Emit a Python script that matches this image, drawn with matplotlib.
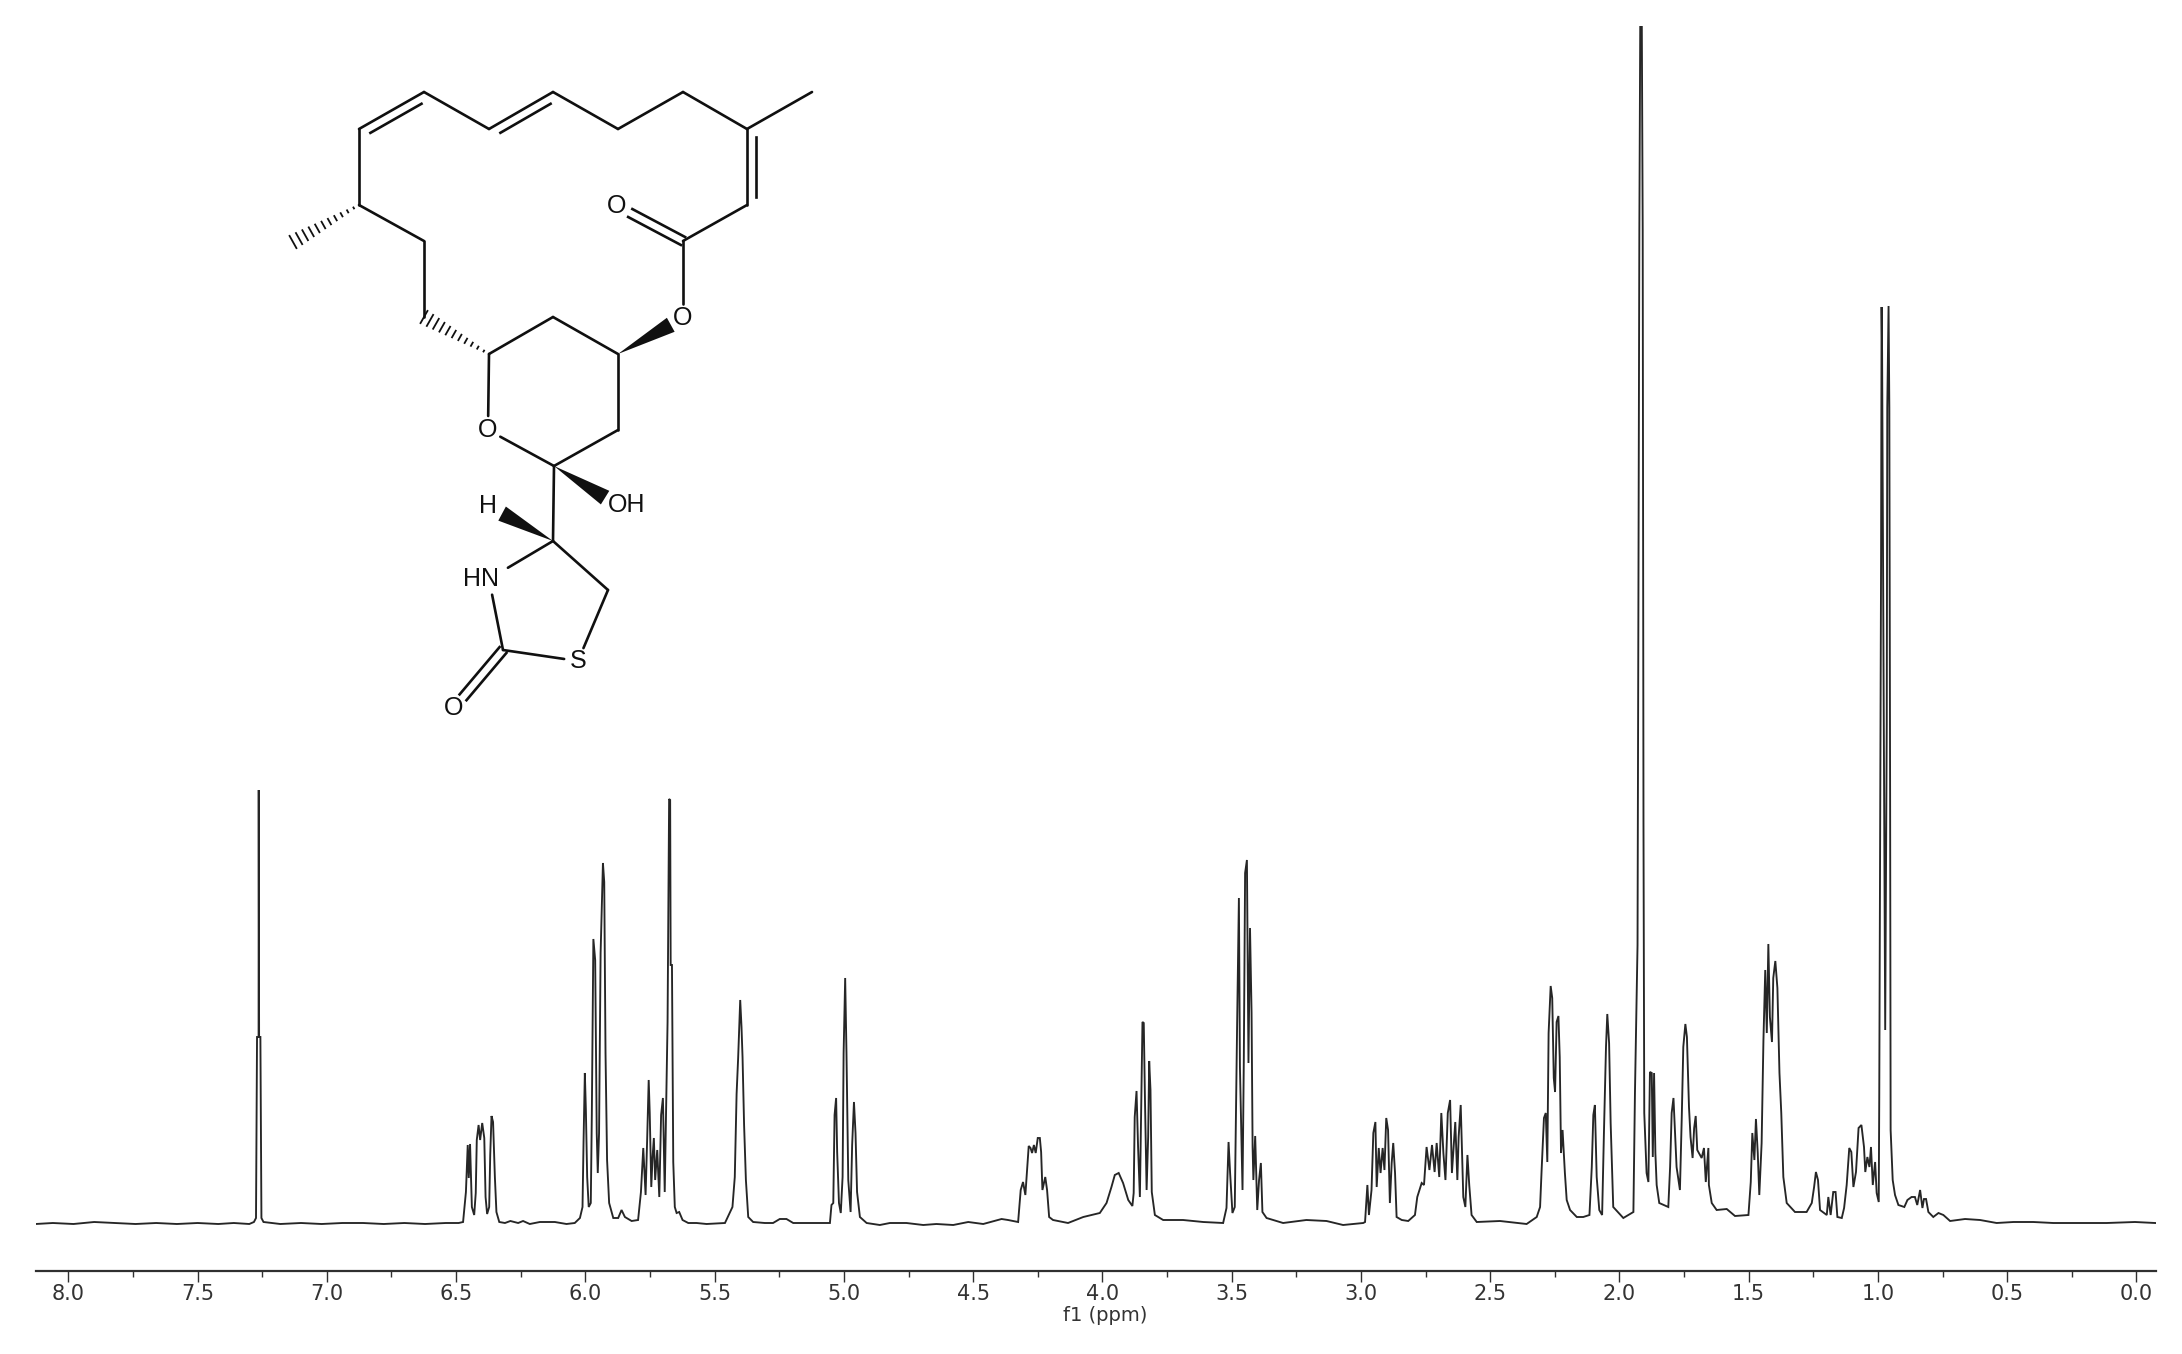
"""1H NMR spectrum with the structure drawn in the upper left corner."""
import numpy as np
import matplotlib
matplotlib.use("Agg")
import matplotlib.pyplot as plt

# ─── Spectrum: (ppm, height above baseline) ──────────────────────────────────
base_left = [(8.126, 0), (8.06, 1), (7.98, 0), (7.90, 2), (7.82, 1), (7.74, 0), (7.66, 1),
             (7.58, 0), (7.50, 1), (7.42, 0), (7.36, 1), (7.30, 0), (7.282, 2)]
chcl3 = [(7.274, 6), (7.270, 187), (7.264, 187), (7.2635, 434), (7.262, 187), (7.257, 187),
         (7.253, 6), (7.245, 2)]
base_69 = [(7.18, 0), (7.10, 1), (7.02, 0), (6.94, 1), (6.86, 1), (6.78, 0), (6.70, 1),
           (6.62, 0), (6.54, 1), (6.49, 1)]
m_640 = [(6.473, 2), (6.462, 32), (6.455, 79), (6.451, 46), (6.446, 80), (6.439, 17), (6.430, 9),
         (6.424, 31), (6.420, 84), (6.413, 99), (6.407, 84), (6.399, 101), (6.391, 86), (6.386, 27),
         (6.380, 10), (6.372, 17), (6.368, 69), (6.363, 108), (6.357, 102), (6.350, 47), (6.344, 12),
         (6.333, 2), (6.311, 1), (6.290, 3), (6.260, 1), (6.241, 3), (6.215, 0), (6.176, 2),
         (6.118, 2), (6.073, 0), (6.041, 1)]
m_595 = [(6.021, 6), (6.011, 17), (6.007, 82), (6.002, 151), (5.998, 114), (5.993, 47), (5.987, 17),
         (5.979, 21), (5.975, 109), (5.969, 285), (5.962, 264), (5.956, 91), (5.952, 51), (5.947, 91),
         (5.941, 271), (5.932, 361), (5.927, 342), (5.922, 171), (5.916, 64), (5.908, 21), (5.892, 6),
         (5.873, 6), (5.860, 14), (5.847, 7), (5.821, 3), (5.796, 4)]
m_575 = [(5.785, 32), (5.776, 76), (5.767, 29), (5.761, 84), (5.755, 144), (5.751, 111), (5.745, 37),
         (5.740, 67), (5.735, 86), (5.730, 44), (5.722, 74), (5.714, 27), (5.707, 109), (5.700, 126),
         (5.693, 32), (5.682, 202), (5.676, 425), (5.672, 424), (5.670, 259), (5.665, 259), (5.660, 62),
         (5.654, 17), (5.647, 11), (5.637, 12), (5.624, 4), (5.602, 1), (5.570, 1), (5.531, 0), (5.460, 1)]
m_541 = [(5.431, 17), (5.422, 47), (5.415, 130), (5.409, 166), (5.401, 224), (5.396, 197), (5.392, 167),
         (5.386, 99), (5.379, 44), (5.370, 7), (5.351, 2), (5.306, 1), (5.274, 1), (5.248, 5), (5.222, 5),
         (5.196, 1), (5.145, 1), (5.054, 1)]
m_500 = [(5.048, 19), (5.041, 21), (5.036, 109), (5.030, 126), (5.026, 72), (5.019, 21), (5.012, 11),
         (5.005, 47), (5.001, 171), (4.995, 246), (4.990, 172), (4.983, 44), (4.974, 12), (4.968, 79),
         (4.961, 122), (4.955, 91), (4.949, 32), (4.938, 7), (4.912, 1), (4.861, -1), (4.822, 1),
         (4.758, 1), (4.693, -1), (4.642, 0), (4.577, -1), (4.519, 2), (4.461, 0), (4.390, 5),
         (4.365, 4), (4.326, 2)]
m_427 = [(4.316, 34), (4.307, 42), (4.298, 29), (4.291, 56), (4.285, 78), (4.278, 76), (4.272, 71),
         (4.265, 79), (4.258, 71), (4.250, 86), (4.242, 86), (4.237, 72), (4.232, 34), (4.221, 47),
         (4.214, 34), (4.206, 7), (4.191, 4), (4.133, 1), (4.074, 7), (4.010, 11), (3.984, 21),
         (3.965, 37), (3.952, 49), (3.937, 51), (3.920, 41), (3.900, 24), (3.884, 18)]
m_385 = [(3.879, 31), (3.875, 107), (3.868, 133), (3.862, 77), (3.855, 27), (3.850, 117), (3.845, 202),
         (3.840, 201), (3.835, 119), (3.829, 34), (3.823, 87), (3.819, 163), (3.814, 134), (3.809, 32),
         (3.797, 9), (3.765, 4), (3.688, 4), (3.610, 2), (3.533, 1)]
m_345 = [(3.520, 16), (3.512, 82), (3.506, 51), (3.497, 11), (3.488, 17), (3.479, 197), (3.472, 326),
         (3.468, 157), (3.458, 34), (3.453, 164), (3.448, 351), (3.441, 364), (3.435, 161), (3.429, 296),
         (3.423, 211), (3.419, 77), (3.416, 44), (3.409, 88), (3.401, 14), (3.394, 44), (3.387, 61),
         (3.381, 12), (3.365, 6), (3.301, 1), (3.211, 4), (3.133, 3), (3.069, -1), (2.991, 1)]
m_293 = [(2.984, 2), (2.975, 39), (2.969, 9), (2.959, 34), (2.952, 91), (2.944, 102), (2.939, 37),
         (2.931, 76), (2.924, 51), (2.916, 76), (2.909, 54), (2.902, 106), (2.895, 94), (2.888, 21),
         (2.881, 61), (2.875, 81), (2.868, 51), (2.862, 7), (2.842, 4), (2.817, 3)]
m_265 = [(2.791, 9), (2.782, 27), (2.765, 41), (2.756, 39), (2.746, 77), (2.735, 54), (2.725, 79),
         (2.715, 52), (2.707, 81), (2.697, 47), (2.689, 111), (2.681, 71), (2.673, 44), (2.664, 111),
         (2.655, 124), (2.648, 51), (2.635, 102), (2.627, 44), (2.622, 87), (2.614, 119), (2.604, 27),
         (2.596, 17), (2.588, 69), (2.581, 39), (2.572, 9), (2.552, 2), (2.462, 3), (2.359, 0), (2.320, 7),
         (2.307, 17)]
m_226 = [(2.301, 54), (2.292, 106), (2.285, 111), (2.279, 62), (2.274, 191), (2.266, 238), (2.260, 226),
         (2.254, 146), (2.249, 132), (2.243, 202), (2.236, 208), (2.231, 167), (2.226, 71), (2.220, 94),
         (2.211, 51), (2.204, 24), (2.191, 14), (2.165, 7), (2.140, 7), (2.116, 9)]
m_205 = [(2.107, 57), (2.101, 109), (2.095, 119), (2.088, 47), (2.078, 14), (2.067, 9), (2.060, 91),
         (2.052, 177), (2.047, 210), (2.040, 181), (2.034, 101), (2.024, 17), (1.985, 6), (1.946, 12),
         (1.940, 131)]
m_192 = [(1.930, 279), (1.926, 700), (1.923, 994), (1.919, 1230), (1.914, 1230), (1.910, 994),
         (1.907, 400), (1.904, 111)]
m_175 = [(1.895, 51), (1.888, 42), (1.882, 152), (1.875, 151), (1.871, 67), (1.866, 151), (1.861, 71),
         (1.856, 39), (1.846, 21), (1.811, 17), (1.804, 57), (1.798, 111), (1.791, 126), (1.785, 92),
         (1.779, 57), (1.766, 34), (1.759, 106), (1.753, 177), (1.745, 200), (1.739, 187), (1.731, 117),
         (1.725, 87), (1.717, 66), (1.711, 96), (1.705, 108), (1.699, 74), (1.682, 66), (1.673, 76),
         (1.666, 42), (1.656, 76), (1.654, 39), (1.643, 21), (1.624, 14), (1.585, 15), (1.553, 8), (1.501, 9)]
m_143 = [(1.492, 42), (1.486, 91), (1.478, 64), (1.472, 105), (1.465, 71), (1.459, 29), (1.450, 81),
         (1.443, 184), (1.436, 254), (1.430, 191), (1.424, 280), (1.418, 207), (1.410, 182), (1.405, 246),
         (1.397, 263), (1.389, 236), (1.381, 151), (1.374, 111), (1.366, 47), (1.353, 21), (1.321, 12),
         (1.276, 12)]
m_110 = [(1.256, 21), (1.247, 37), (1.240, 52), (1.232, 44), (1.224, 14), (1.198, 9), (1.192, 27),
         (1.183, 9), (1.173, 32), (1.164, 32), (1.157, 7), (1.140, 6), (1.131, 16), (1.121, 39), (1.111, 76),
         (1.103, 72), (1.095, 37), (1.085, 52), (1.075, 96), (1.064, 99), (1.054, 77), (1.049, 52),
         (1.041, 67), (1.033, 57), (1.027, 77), (1.020, 39), (1.011, 62), (1.005, 31), (0.997, 22)]
m_098 = [(0.995, 127), (0.992, 360), (0.988, 660), (0.986, 917), (0.984, 872), (0.972, 194), (0.966, 500),
         (0.964, 816), (0.959, 918), (0.956, 816), (0.953, 430), (0.951, 94), (0.943, 44), (0.934, 29)]
base_right = [(0.921, 19), (0.898, 17), (0.886, 24), (0.870, 27), (0.857, 27), (0.848, 19), (0.837, 34),
              (0.828, 16), (0.822, 25), (0.814, 25), (0.805, 12), (0.786, 7), (0.766, 11), (0.747, 9),
              (0.721, 3), (0.663, 5), (0.605, 4), (0.541, 1), (0.476, 2), (0.399, 2), (0.322, 1),
              (0.231, 1), (0.167, 1), (0.115, 1), (0.006, 2), (-0.072, 1)]

spectrum = [base_left, chcl3, base_69, m_640, m_595, m_575, m_541, m_500, m_427, m_385, m_345, m_293,
            m_265, m_226, m_205, m_192, m_175, m_143, m_110, m_098, base_right]

major_ticks = [8.0, 7.5, 7.0, 6.5, 6.0, 5.5, 5.0, 4.5, 4.0, 3.5, 3.0, 2.5, 2.0, 1.5, 1.0, 0.5, 0.0]
minor_ticks = [7.75, 7.25, 6.75, 6.25, 5.75, 5.25, 4.75, 4.25, 3.75, 3.25, 2.75, 2.25, 1.75, 1.25, 0.75, 0.25]

# ─── Structure: atom positions in figure pixels ──────────────────────────────
atoms = {
    "c1": (359, 129), "c2": (424, 92), "c3": (489, 129), "c4": (553, 92), "c5": (618, 129),
    "c6": (683, 92), "c7": (747, 129), "me1": (812, 92), "c8": (747, 205), "c9": (683, 241),
    "o1": (617, 206), "o2": (683, 318), "c10": (618, 354), "c11": (553, 317), "c12": (489, 354),
    "o3": (488, 430), "c13": (554, 466), "c14": (618, 430), "oh": (617, 505), "c15": (553, 541),
    "h": (488, 506), "n": (489, 579), "c16": (503, 650), "s": (578, 661), "c17": (608, 590),
    "o4": (454, 708), "c18": (424, 241), "c19": (424, 317), "c20": (359, 205), "me2": (293, 242),
}
# (from, to, trim at start, trim at end)
single_bonds = [("c2", "c3", 0, 0), ("c4", "c5", 0, 0), ("c5", "c6", 0, 0), ("c6", "c7", 0, 0),
                ("c7", "me1", 0, 0), ("c8", "c9", 0, 0), ("c9", "o2", 0, 14), ("c10", "c11", 0, 0),
                ("c11", "c12", 0, 0), ("c12", "o3", 0, 14), ("o3", "c13", 14, 0), ("c13", "c14", 0, 0),
                ("c14", "c10", 0, 0), ("c13", "c15", 0, 0), ("c15", "n", 0, 22), ("c15", "c17", 0, 0),
                ("c17", "s", 0, 14), ("s", "c16", 14, 0), ("c16", "n", 0, 16), ("c1", "c20", 0, 0),
                ("c20", "c18", 0, 0), ("c18", "c19", 0, 0)]
# (from, to, side of the second line, trim at start, trim at end)
double_bonds = [("c1", "c2", 1, 0, 0), ("c3", "c4", 1, 0, 0), ("c7", "c8", -1, 0, 0),
                ("c9", "o1", 0, 0, 15), ("c16", "o4", 0, 0, 14)]
wedges = [("c10", "o2", 14), ("c13", "oh", 14), ("c15", "h", 16)]
hashes = [("c20", "me2"), ("c12", "c19")]
labels = [("o1", "O"), ("o2", "O"), ("o3", "O"), ("s", "S"), ("o4", "O"), ("h", "H")]
INK = "#101010"
BOND_LW = 1.9


def trimmed(a, b, trim_a, trim_b):
    a, b = np.array(atoms[a], float), np.array(atoms[b], float)
    u = (b - a) / np.linalg.norm(b - a)
    return a + u * trim_a, b - u * trim_b, u


def draw_structure(ax):
    for a, b, ta, tb in single_bonds:
        p, q, _ = trimmed(a, b, ta, tb)
        ax.plot([p[0], q[0]], [p[1], q[1]], color=INK, lw=BOND_LW, solid_capstyle="round")
    for a, b, side, ta, tb in double_bonds:
        p, q, u = trimmed(a, b, ta, tb)
        n = np.array([-u[1], u[0]])
        if side == 0:  # carbonyl, the two lines straddle the axis
            for s in (-4.5, 4.5):
                ax.plot([p[0] + n[0] * s, q[0] + n[0] * s], [p[1] + n[1] * s, q[1] + n[1] * s],
                        color=INK, lw=BOND_LW)
        else:
            ax.plot([p[0], q[0]], [p[1], q[1]], color=INK, lw=BOND_LW, solid_capstyle="round")
            off = n * side * 9
            ax.plot([p[0] + u[0] * 8 + off[0], q[0] - u[0] * 8 + off[0]],
                    [p[1] + u[1] * 8 + off[1], q[1] - u[1] * 8 + off[1]], color=INK, lw=BOND_LW)
    for a, b, trim in wedges:
        p, q, u = trimmed(a, b, 0, trim)
        n = np.array([-u[1], u[0]]) * 8
        ax.fill([p[0], q[0] + n[0], q[0] - n[0]], [p[1], q[1] + n[1], q[1] - n[1]], color=INK, lw=0)
    for a, b in hashes:
        p, q, u = trimmed(a, b, 0, 0)
        n = np.array([-u[1], u[0]])
        for f in np.linspace(0.08, 1.0, 11):
            c = p + (q - p) * f
            w = 7 * f
            ax.plot([c[0] - n[0] * w, c[0] + n[0] * w], [c[1] - n[1] * w, c[1] + n[1] * w], color=INK, lw=1.3)
    for key, txt in labels:
        x, y = atoms[key]
        ax.text(x, y, txt, ha="center", va="center", fontsize=18, family="Liberation Sans", color=INK)
    ax.text(atoms["oh"][0] - 9, atoms["oh"][1], "OH", ha="left", va="center", fontsize=18,
            family="Liberation Sans", color=INK)
    ax.text(atoms["n"][0] + 10, atoms["n"][1], "HN", ha="right", va="center", fontsize=18,
            family="Liberation Sans", color=INK)


def main():
    W, H = 2182, 1354
    fig = plt.figure(figsize=(W / 100, H / 100), dpi=100, facecolor="white")

    # axis line sits at y=1271, baseline of the trace at y=1224
    ax = fig.add_axes([36 / W, (H - 1271) / H, (2156 - 36) / W, (1271 - 26) / H])
    pts = np.array([p for seg in spectrum for p in seg])
    ax.plot(pts[:, 0], pts[:, 1], color="#262626", lw=1.35, solid_joinstyle="miter")
    ax.set_xlim(8.125, -0.0755)
    ax.set_ylim(-47, 1198)
    for side in ("top", "left", "right"):
        ax.spines[side].set_visible(False)
    ax.spines["bottom"].set_linewidth(1.6)
    ax.spines["bottom"].set_color("#303030")
    ax.set_yticks([])
    ax.set_xticks(major_ticks)
    ax.set_xticklabels([f"{t:.1f}" for t in major_ticks])
    ax.set_xticks(minor_ticks, minor=True)
    ax.tick_params(axis="x", which="major", length=8, width=1, color="#303030", labelsize=15,
                   labelcolor="#333333", pad=1.5)
    ax.tick_params(axis="x", which="minor", length=4.5, width=1, color="#303030")
    ax.set_xlabel("f1 (ppm)", fontsize=14, color="#333333", labelpad=1, x=0.5045)

    # overlay in pixel coordinates for the structure
    mol = fig.add_axes([0, 0, 1, 1], facecolor="none")
    mol.set_xlim(0, W)
    mol.set_ylim(H, 0)
    mol.axis("off")
    draw_structure(mol)

    fig.savefig("out.png", dpi=100, facecolor="white")


if __name__ == "__main__":
    main()
